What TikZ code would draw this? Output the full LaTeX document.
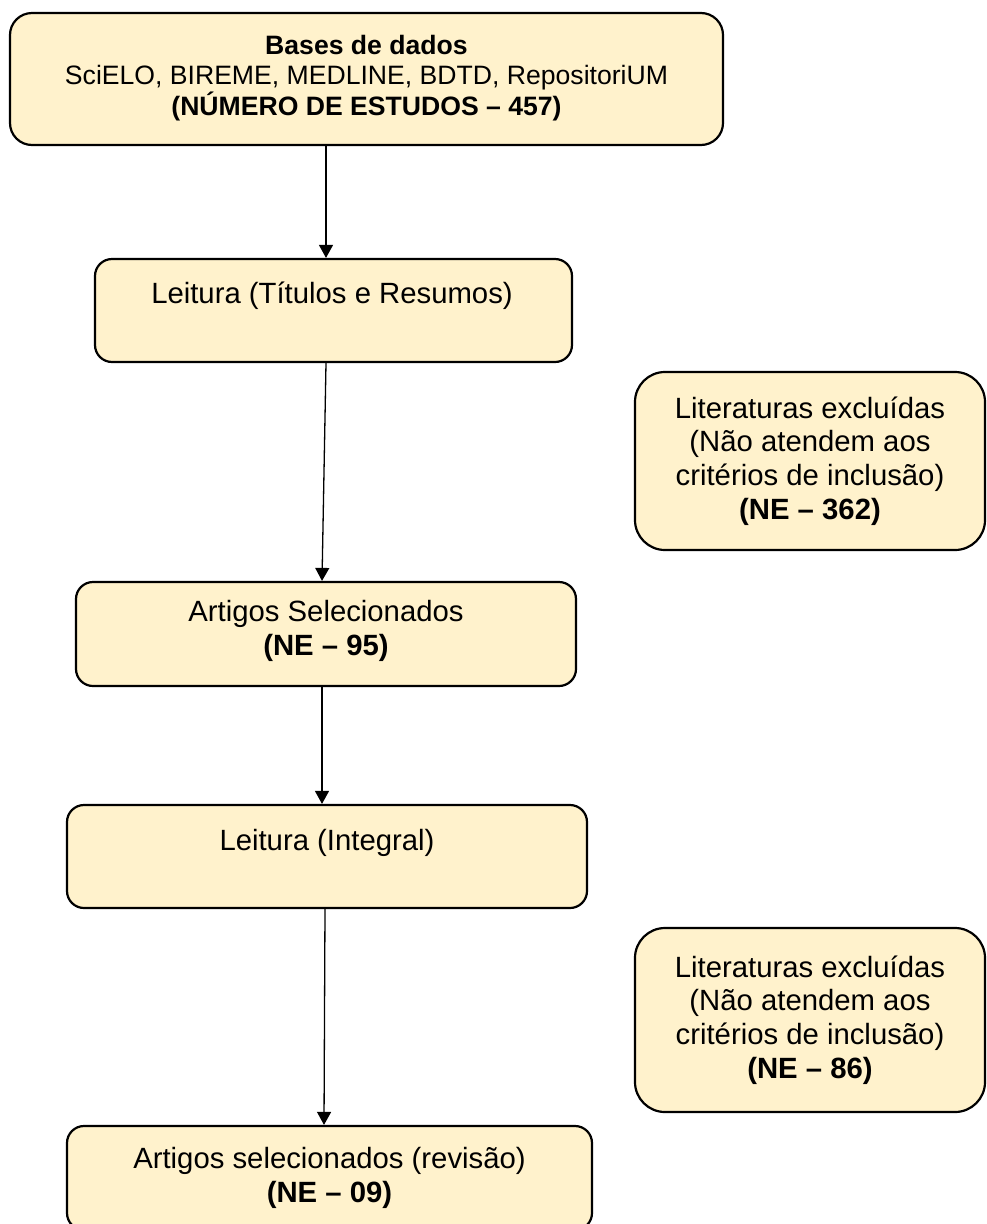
\documentclass[tikz,border=0pt]{standalone}
\usepackage{fontspec}
\setmainfont{Liberation Sans}
\usetikzlibrary{arrows.meta}
\definecolor{boxfill}{HTML}{FFF2CC}
\begin{document}
\begin{tikzpicture}[x=1pt,y=-1pt,
  box/.style={draw=black, line width=2.2pt, fill=boxfill, rounded corners=17pt, inner sep=0pt},
  bigbox/.style={box, rounded corners=22pt},
  sidebox/.style={box, rounded corners=30pt, align=center, font=\fontsize{29.3}{33.7}\selectfont},
  txt/.style={inner sep=0pt, align=center, font=\fontsize{29.3}{33.7}\selectfont},
  txtsmall/.style={inner sep=0pt, align=center, font=\fontsize{26.6}{30.2}\selectfont},
  conn/.style={line width=1.3pt, draw=black, -{Triangle[length=13pt,width=14pt]}}
]
\useasboundingbox (0,0) rectangle (987,1224);

% main column boxes
\node[bigbox, minimum width=713pt, minimum height=132pt] (b1) at (366.5,79) {};
\node[box, minimum width=477pt, minimum height=103pt] (b2) at (333.5,310.5) {};
\node[box, minimum width=500pt, minimum height=104pt] (b3) at (326,634) {};
\node[box, minimum width=520pt, minimum height=103pt] (b4) at (327,856.5) {};
\node[box, minimum width=525pt, minimum height=104pt] (b5) at (329.5,1178) {};

% texts of main column
\node[txtsmall] (t1) at (366.5,78) {\textbf{Bases de dados}\\SciELO, BIREME, MEDLINE, BDTD, RepositoriUM\\\textbf{(NÚMERO DE ESTUDOS – 457)}};
\node[txt] (t2) at (332,296) {Leitura (Títulos e Resumos)};
\node[txt] (t3) at (326,631) {Artigos Selecionados\\\textbf{(NE – 95)}};
\node[txt] (t4) at (327,843) {Leitura (Integral)};
\node[txt] (t5) at (329.5,1178) {Artigos selecionados (revisão)\\\textbf{(NE – 09)}};

% side boxes
\node[sidebox, minimum width=350pt, minimum height=178pt] (r1) at (810,461)
  {Literaturas excluídas\\(Não atendem aos\\critérios de inclusão)\\\textbf{(NE – 362)}};
\node[sidebox, minimum width=350pt, minimum height=184pt] (r2) at (810,1020)
  {Literaturas excluídas\\(Não atendem aos\\critérios de inclusão)\\\textbf{(NE – 86)}};

% connectors
\draw[conn] ([xshift=-40.5pt]b1.south) -- ([xshift=-7.5pt]b2.north);
\draw[conn] ([xshift=-7.5pt]b2.south) -- ([xshift=-4pt]b3.north);
\draw[conn] ([xshift=-4pt]b3.south) -- ([xshift=-5pt]b4.north);
\draw[conn] ([xshift=-2pt]b4.south) -- ([xshift=-5.5pt]b5.north);
\end{tikzpicture}
\end{document}
